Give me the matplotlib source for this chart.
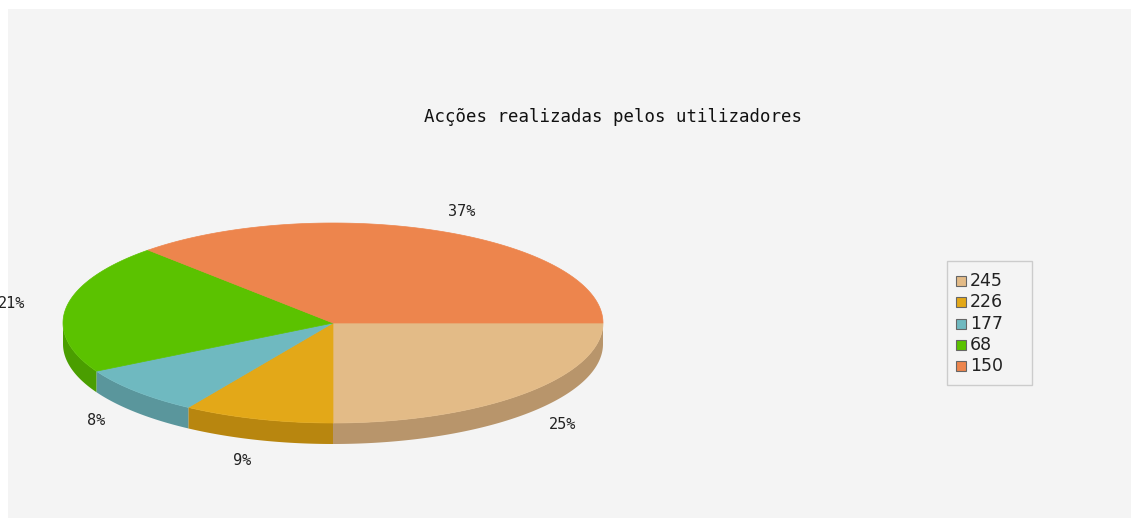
import numpy as np
import matplotlib
matplotlib.use("Agg")
import matplotlib.pyplot as plt
from matplotlib.patches import Polygon, Rectangle

title = "Acções realizadas pelos utilizadores"
shares = [25, 9, 8, 21, 37]
pct_labels = ["25%", "9%", "8%", "21%", "37%"]
legend_labels = ["245", "226", "177", "68", "150"]
top_colors = ["#e3bb87", "#e3a818", "#6fb9c0", "#5bc200", "#ed854d"]
side_colors = ["#b8956b", "#b8860f", "#5a969c", "#4a9e00", "#c06a3c"]

W, H = 1131, 518
fig = plt.figure(figsize=(W / 100, H / 100), dpi=100)
fig.patch.set_facecolor("white")
ax = fig.add_axes([0, 0, 1, 1])
ax.set_xlim(0, W)
ax.set_ylim(H, 0)
ax.axis("off")

ax.add_patch(Rectangle((8, 9), W - 8, H - 9, facecolor="#f4f4f4", edgecolor="none"))

cx, cy = 333, 323
a, b = 270, 100
depth = 21

total = sum(shares)
bounds = np.concatenate([[0], np.cumsum(shares)]) / total * 360.0


def arc(t0, t1, n=200):
    t = np.radians(np.linspace(t0, t1, n))
    return cx + a * np.cos(t), cy + b * np.sin(t)


# side walls (front half: angles 0..180 where y increases downward)
for i in range(len(shares)):
    t0, t1 = bounds[i], bounds[i + 1]
    s0, s1 = max(t0, 0), min(t1, 180)
    if s1 > s0:
        x, y = arc(s0, s1)
        pts = np.column_stack([np.concatenate([x, x[::-1]]),
                               np.concatenate([y, y[::-1] + depth])])
        ax.add_patch(Polygon(pts, closed=True, facecolor=side_colors[i], edgecolor="none"))

# top faces
for i in range(len(shares)):
    x, y = arc(bounds[i], bounds[i + 1])
    pts = np.column_stack([np.concatenate([[cx], x]), np.concatenate([[cy], y])])
    ax.add_patch(Polygon(pts, closed=True, facecolor=top_colors[i], edgecolor=top_colors[i], lw=0.5))

# percentage labels
Rx, Ry = 325, 122
for i in range(len(shares)):
    m = np.radians((bounds[i] + bounds[i + 1]) / 2)
    lx = cx + Rx * np.cos(m)
    ly = cy + Ry * np.sin(m) + (depth * np.sin(m) if np.sin(m) > 0 else 0)
    ax.text(lx, ly, pct_labels[i], ha="center", va="center", fontsize=11,
            family="DejaVu Sans Mono", color="#222222")

ax.text(613, 117, title, ha="center", va="center", fontsize=12.5,
        family="DejaVu Sans Mono", color="#111111")

# legend
ax.add_patch(Rectangle((947, 261), 85, 124, facecolor="#f4f4f4", edgecolor="#cccccc", lw=1))
for i, lab in enumerate(legend_labels):
    y = 281 + i * 21.3
    ax.add_patch(Rectangle((956, y - 5), 10, 10, facecolor=top_colors[i], edgecolor="#666666", lw=0.8))
    ax.text(970, y, lab, ha="left", va="center", fontsize=12.5, color="#222222")

fig.savefig("out.png", dpi=100, facecolor=fig.get_facecolor())
